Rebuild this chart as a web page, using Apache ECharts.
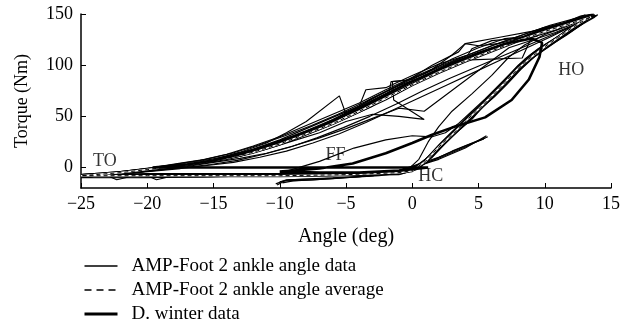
<!DOCTYPE html>
<html>
<head>
<meta charset="utf-8">
<script src="https://cdn.jsdelivr.net/npm/echarts@6/dist/echarts.min.js"></script>
<style>
  html, body { margin: 0; padding: 0; background: #fff; }
  #chart { width: 624px; height: 333px; }
</style>
</head>
<body>
<div id="chart"></div>
<script>
// Ankle torque vs angle loops.
const xTicks = [-25, -20, -15, -10, -5, 0, 5, 10, 15];
const yTicks = [0, 50, 100, 150];

// individual AMP-Foot 2 trials [angle deg, torque Nm]
const trial1 = [[-1,-6],[0,-3],[1,6],[2,19],[3,32],[4,44],[5,57],[6,70],[7,84],[8,97],[9,109],[10,118],[11,127],[12,136],[13,144],[13.6,148],[12,141],[10,133],[8,123],[6,113],[4,103],[2,92],[0,80],[-2,66],[-4,54],[-6,42],[-8,32],[-10,22],[-12,14],[-14,8],[-16,4],[-18,0],[-20,-3],[-22,-6],[-25,-8],[-20,-8],[-15,-8],[-10,-8],[-5,-7],[-1,-6]];
const trial2 = [[-10.3,-16],[-9.5,-12],[-7,-11],[-4,-9],[-1,-5],[0.5,0],[1.5,10],[2.5,24],[3.5,36],[4.5,47],[5.5,62],[6.5,74],[7.5,90],[8.5,104],[9.5,115],[10.5,123],[11.5,131],[12.5,140],[13.2,146],[12.8,147],[11,137],[9,128],[7,119],[5,109],[3,98],[1,87],[-1,75],[-3,62],[-5,49],[-7,38],[-9,28],[-11,19],[-13,11],[-15,6],[-17,2],[-19,-1],[-21,-4],[-23,-6],[-25,-8],[-22,-8],[-18,-8],[-13,-8],[-8,-7],[-4,-7],[-1,-5]];
const trial3 = [[-1,-4],[0.5,2],[1.5,14],[2.5,27],[3.5,40],[4.5,52],[5.5,64],[6.5,77],[7.5,91],[8.5,103],[9.5,113],[10.5,121],[11.5,130],[12.5,139],[13.3,145],[13.8,149],[12.5,143],[11,138],[9.5,134],[8,126],[6.5,121],[5,119],[4,121],[3,110],[1.5,96],[0,86],[-1.5,84],[-1.4,66],[0.9,47],[-1,50],[-3,52],[-5,45],[-7,34],[-9,26],[-11,18],[-13,11],[-15,6],[-17,2],[-19,-2],[-21,-5],[-23,-7],[-25,-8],[-23,-8],[-22.3,-12],[-21,-8],[-20,-8],[-19.3,-12],[-18,-8],[-14,-8],[-9,-7],[-5,-6],[-1,-4]];
const trial4 = [[-9.8,-15],[-9,-13],[-6,-11],[-3,-8],[-0.5,-4],[1,4],[2,17],[3,30],[4,42],[5,55],[6,67],[7,80],[8,94],[9,106],[10,116],[11,125],[12,133],[12.8,140],[13.4,147],[12.5,145],[11,135],[9,127],[8.3,107],[3.9,105],[2,95],[0,82],[-2,70],[-4,57],[-6,45],[-8,34],[-10,25],[-12,16],[-14,10],[-16,5],[-18,1],[-20,-2],[-22,-5],[-25,-7],[-20,-7],[-15,-7],[-10,-7],[-5,-6],[-1,-3],[1,4],[3,16],[5.5,29]];
const trial5 = [[-1,-5],[0,-1],[1,8],[2,22],[3,35],[4,47],[5,60],[6,73],[7,86],[8,100],[9,111],[10,120],[11,128],[12,137],[13,143],[14,149],[13,146],[11,140],[9,131],[7,121],[5,111],[3,99],[1,88],[-1,76],[-3,63],[-5,51],[-7,39],[-9,29],[-11,21],[-13,13],[-15,7],[-17,3],[-19,0],[-21,-3],[-23,-6],[-25,-9],[-20,-9],[-15,-9],[-10,-8],[-5,-7],[-1,-4],[2,8],[4,19],[5.6,31]];
const trial6 = [[-0.5,-5],[0.8,3],[1.8,16],[2.8,29],[3.8,41],[4.8,54],[5.8,66],[6.8,79],[7.8,93],[8.8,105],[9.8,115],[10.8,124],[11.8,133],[12.8,141],[13.5,146],[12.2,139],[10.5,128],[8.5,116],[6.5,104],[4.5,92],[2.5,80],[0.5,68],[-1.5,56],[-3.5,44],[-5.5,33],[-7.5,24],[-9.5,16],[-11.5,10],[-13.5,5],[-15.5,2],[-17.5,-1],[-20,-4],[-22.5,-7],[-25,-8],[-20,-8],[-15,-8],[-10,-8],[-5,-7],[-0.5,-5]];
const trial7 = [[-9.6,-4],[-7,6],[-4.4,19],[-2,27],[0,31],[1.5,30],[2.5,34],[3.5,43],[4.5,55],[5.5,67],[6.5,80],[7.5,93],[8.5,106],[9.5,116],[10.5,124],[11.5,132],[12.5,141],[13.6,150],[12.7,148],[11,139],[9,130],[7,120],[5.2,113],[3,102],[1,90],[-1,80],[-3,68],[-5,52],[-5.5,70],[-8,45],[-9.5,34],[-11,24],[-13,15],[-15,8],[-17,3],[-19,-1],[-21,-4],[-23,-7],[-25,-9],[-21,-9],[-16,-9],[-11,-8],[-6,-7],[-2,-6]];
const trial8 = [[-10.2,-17],[-9.6,-13],[-7.5,-12],[-5,-10],[-2.5,-8],[0,-4],[1.2,7],[2.2,21],[3.2,33],[4.2,46],[5.2,58],[6.2,69],[7.2,82],[8.2,96],[9.2,108],[10.2,117],[11.2,126],[12.2,135],[13.1,142],[13.8,147],[12.3,144],[10.5,137],[8.5,128],[7,126],[5,117],[3,106],[1,92],[-0.5,85],[-1.6,84],[-1.8,70],[-3,60],[-5,48],[-7,37],[-9,27],[-11,19],[-13,12],[-15,7],[-17,3],[-19,-1],[-21,-4],[-23,-6],[-25,-8],[-20,-7],[-15,-7],[-10,-7],[-5,-6],[-1,-5]];
const trial9 = [[-1.5,-6],[0.2,-1],[1.2,9],[2.2,23],[3.2,36],[4.2,49],[5.2,61],[6.2,74],[7.2,88],[8.2,101],[9.2,112],[10.2,121],[11.2,129],[12.2,138],[13,145],[13.4,149],[12,143],[10,135],[8,125],[6,115],[4,106],[2,95],[0,84],[-2,71],[-4,58],[-6,46],[-8,35],[-10,26],[-12,17],[-14,10],[-16,5],[-18,2],[-20,-1],[-22,-4],[-25,-7],[-20,-7],[-15,-7],[-10,-7],[-5,-6],[-1,-3],[2,10],[4,21],[5.4,28]];
const trial10 = [[-1,-7],[0.3,-2],[1.3,8],[2.3,22],[3.3,35],[4.3,47],[5.3,60],[6.3,72],[7.3,86],[8.3,99],[9.3,110],[10.3,119],[11.3,128],[12.3,137],[13.2,145],[13.7,150],[12.4,146],[10.4,139],[8.4,130],[6.4,121],[4.4,111],[2.4,100],[0.4,89],[-1.6,77],[-3.6,64],[-5.6,52],[-7.6,41],[-9.6,31],[-11.6,22],[-13.6,14],[-15.6,8],[-17.6,4],[-19.6,0],[-22,-4],[-25,-9],[-21,-9],[-16,-9],[-11,-8],[-6,-8],[-1,-7]];
const trial11 = [[-0.8,-6],[0.6,0],[1.6,12],[2.6,25],[3.6,38],[4.6,50],[5.6,63],[6.6,76],[7.6,89],[8.6,102],[9.6,112],[10.6,121],[11.6,129],[12.6,138],[13.4,146],[12.6,141],[10.8,131],[8.8,120],[6.8,109],[4.8,98],[2.8,87],[0.8,75],[-1.2,62],[-3.2,50],[-5.2,39],[-7.2,29],[-9.2,20],[-11.2,13],[-13.2,7],[-15.2,3],[-17.2,0],[-19.5,-3],[-22,-6],[-25,-10],[-20,-10],[-15,-9],[-10,-9],[-5,-8],[-0.8,-6]];
const trial12 = [[-1.2,-5],[0.4,1],[1.4,13],[2.4,26],[3.4,38],[4.4,50],[5.4,62],[6.4,75],[7.4,89],[8.4,102],[9.4,113],[10.4,122],[11.4,130],[12.4,138],[13.5,147],[13,149],[11.5,141],[9.8,136],[9.4,128],[6,124],[4.5,116],[4.2,110],[2,101],[0,90],[-2,78],[-3.5,76],[-4,60],[-6,49],[-8,38],[-10,27],[-12,18],[-14,11],[-16,6],[-18,2],[-20,-2],[-22,-5],[-25,-7],[-20,-7],[-15,-7],[-10,-7],[-5,-6],[-1.2,-5]];
const trial13 = [[-0.5,-4],[0.5,8],[1.2,25],[2,40],[3,55],[4.5,72],[6,90],[7.3,108],[8.5,120],[10,130],[11.5,137],[12.8,144],[13.4,148],[12,142],[10,134],[8,125],[6,115],[4,104],[2,93],[0,82],[-2,69],[-4,57],[-6,45],[-8,34],[-10,24],[-12,16],[-14,9],[-16,5],[-18,1],[-20,-2],[-22,-5],[-25,-8],[-20,-9],[-15,-9],[-10,-8],[-5,-7],[-0.5,-4]];
const trial14 = [[-10,-14],[-9.3,-12],[-6,-10],[-3,-8],[-0.3,-4],[1,5],[2,18],[3,31],[4,43],[5,56],[6,68],[7,81],[8,95],[9,107],[10,117],[11,126],[12,134],[13,142],[13.7,148],[12.5,141],[10.8,132],[7.3,117],[0.9,55],[-1,58],[-3,48],[-5,38],[-7,29],[-9,21],[-11,14],[-13,9],[-15,5],[-17,1],[-19,-2],[-21,-5],[-23,-7],[-25,-8],[-20,-8],[-15,-8],[-10,-8],[-5,-7],[-1,-5]];
const trial15 = [[-1,-5],[0.2,0],[1.2,10],[2.2,24],[3.2,37],[4.2,50],[5.2,62],[6.2,75],[7.2,88],[8.2,101],[9.2,112],[10.2,121],[11.2,130],[12.2,139],[13.3,146],[12,143],[10,137],[8,128],[6,119],[4,109],[2,99],[0,88],[-2,76],[-4,63],[-6,52],[-8,41],[-10,30],[-12,21],[-14,13],[-16,7],[-18,3],[-20,-1],[-22,-4],[-25,-7],[-20,-6],[-15,-6],[-10,-6],[-5,-6],[-1,-5]];
const trial16 = [[-1.4,-6],[0,-2],[1,7],[2,21],[3,34],[4,46],[5,59],[6,71],[7,84],[8,97],[9,109],[10,119],[11,128],[12,137],[13,144],[13.9,148],[12.7,146],[11.4,140],[9,133],[6.5,127],[4,121],[3.5,113],[1.5,100],[0,88],[-2,74],[-4,60],[-6,47],[-8,36],[-10,26],[-12,17],[-14,10],[-16,5],[-18,1],[-20,-2],[-22,-6],[-25,-8],[-20,-8],[-15,-8],[-10,-8],[-5,-7],[-1,-4],[2,9],[4,20],[5.7,30]];
const trials = [trial1, trial2, trial3, trial4, trial5, trial6, trial7, trial8,
  trial9, trial10, trial11, trial12, trial13, trial14, trial15, trial16];

// averaged AMP-Foot 2 loop
const averageLoop = [[0,-3],[1,6],[2,20],[3,32],[4,45],[5,57],[6,70],[7,83],[8,97],[9,108],[10,118],[11,127],[12,136],[13,144],[13.5,147],[12,141],[10,133],[8,124],[6,114],[4,104],[2,93],[0,81],[-2,68],[-4,55],[-6,43],[-8,33],[-10,23],[-12,15],[-14,9],[-16,5],[-18,1],[-20,-2],[-22,-5],[-25,-8],[-20,-8],[-15,-8],[-10,-8],[-5,-7],[-1,-5],[0,-3]];

// D. Winter reference loop
const winterLoop = [[1.2,0],[-1,-3],[-4,-5],[-7,-5],[-10,-4],[-7,-1],[-4.5,4],[-2,14],[0,24],[1.5,32],[3,39],[5.5,49],[7.5,66],[8.8,86],[9.6,108],[9.8,122],[9,126],[7,121],[5,112],[3,102],[1,90],[-1,78],[-3,65],[-5,52],[-7,40],[-9,30],[-11,21],[-13,13],[-15,7],[-17,3],[-19.6,0],[-10,0],[1.2,0]];

// gait event labels
const phaseLabels = [
  { name: 'TO', value: [-23.2, 5.8] },
  { name: 'FF', value: [-5.8, 11.7] },
  { name: 'HC', value: [1.4, -8.8] },
  { name: 'HO', value: [12.0, 95.4] }
];

const seriesNames = ['AMP-Foot 2 ankle angle data', 'AMP-Foot 2 ankle angle average', 'D. winter data'];

const FONT = 'Liberation Serif';
const minus = v => (v < 0 ? '\u2212' + Math.abs(v) : String(v));

const series = [];
trials.forEach(t => {
  series.push({
    name: seriesNames[0], type: 'line', data: t, symbol: 'none', silent: true,
    itemStyle: { color: '#000' },
    lineStyle: { color: '#000', width: 1.15 }, z: 2
  });
});
// white underlay so the dashes show up inside the dense band
series.push({
  name: 'avg-underlay', type: 'line', data: averageLoop, symbol: 'none', silent: true,
  itemStyle: { color: '#fff' },
  lineStyle: { color: '#fff', width: 1.6 }, z: 3
});
series.push({
  name: seriesNames[1], type: 'line', data: averageLoop, symbol: 'none', silent: true,
  itemStyle: { color: '#000' },
  lineStyle: { color: '#000', width: 1, type: [4, 3] }, z: 4
});
series.push({
  name: seriesNames[2], type: 'line', data: winterLoop, symbol: 'none', silent: true,
  itemStyle: { color: '#000' },
  lineStyle: { color: '#000', width: 2.6 }, z: 5
});
series.push({
  name: 'events', type: 'scatter', data: phaseLabels, symbolSize: 0, silent: true, z: 6,
  label: {
    show: true, position: 'inside', formatter: p => p.name,
    color: '#000', fontFamily: FONT, fontSize: 18
  }
});

const chart = echarts.init(document.getElementById('chart'), null, { renderer: 'canvas' });
chart.setOption({
  animation: false,
  backgroundColor: '#fff',
  color: ['#000'],
  textStyle: { fontFamily: FONT, color: '#000' },
  grid: { left: 81, right: 13, top: 14, bottom: 145, containLabel: false },
  xAxis: {
    type: 'value', min: -25, max: 15, interval: 5,
    name: 'Angle (deg)', nameLocation: 'middle', nameGap: 39,
    nameTextStyle: { fontFamily: FONT, fontSize: 20, color: '#000' },
    axisLine: { show: true, onZero: false, lineStyle: { color: '#000', width: 1.5 } },
    axisTick: { show: true, inside: true, length: 5, lineStyle: { color: '#000', width: 1 } },
    axisLabel: { fontFamily: FONT, fontSize: 18, color: '#000', margin: 7, formatter: minus },
    splitLine: { show: false }
  },
  yAxis: {
    type: 'value', min: -20, max: 150,
    name: 'Torque (Nm)', nameLocation: 'middle', nameGap: 50, nameRotate: 90,
    nameTextStyle: { fontFamily: FONT, fontSize: 18, color: '#000' },
    axisLine: { show: true, onZero: false, lineStyle: { color: '#000', width: 1.5 } },
    axisTick: { show: true, inside: true, length: 5, customValues: yTicks, lineStyle: { color: '#000', width: 1 } },
    axisLabel: { fontFamily: FONT, fontSize: 18, color: '#000', margin: 8, customValues: yTicks, formatter: minus },
    splitLine: { show: false }
  },
  legend: {
    data: [
      { name: seriesNames[0], lineStyle: { color: '#000', width: 1.3, type: 'solid' } },
      { name: seriesNames[1], lineStyle: { color: '#000', width: 1.3, type: [7, 5] } },
      { name: seriesNames[2], lineStyle: { color: '#000', width: 3, type: 'solid' } }
    ],
    orient: 'vertical', left: 83, top: 256, padding: 0,
    itemWidth: 33, itemHeight: 10, itemGap: 4,
    itemStyle: { opacity: 0 },
    textStyle: { fontFamily: FONT, fontSize: 19, lineHeight: 20, color: '#000', padding: [0, 0, 0, 9] },
    inactiveColor: '#000', selectedMode: false
  },
  series: series
});
</script>
</body>
</html>
